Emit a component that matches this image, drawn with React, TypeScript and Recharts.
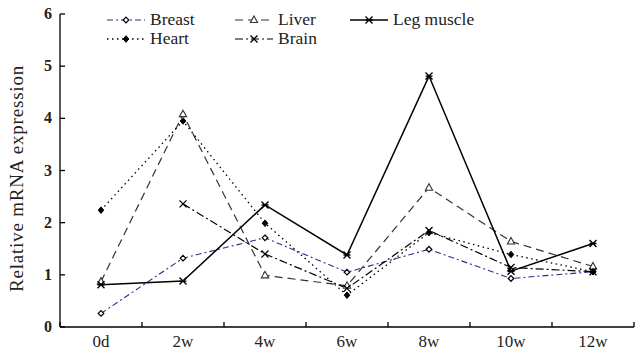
import React from "react";
import { LineChart, Line, XAxis, YAxis } from "recharts";

const stages = ["0d", "2w", "4w", "6w", "8w", "10w", "12w"];
const breast = [0.26, 1.32, 1.71, 1.05, 1.49, 0.93, 1.06];
const heart = [2.24, 3.95, 1.99, 0.61, 1.81, 1.39, 1.06];
const liver = [0.87, 4.08, 0.99, 0.79, 2.67, 1.64, 1.16];
const brain = [null, 2.36, 1.4, 0.74, 1.85, 1.14, 1.06];
const legMuscle = [0.81, 0.88, 2.34, 1.38, 4.81, 1.07, 1.6];
const yTicks = [0, 1, 2, 3, 4, 5, 6];
const xTicks = [-0.5, 0, 0.5, 1, 1.5, 2, 2.5, 3, 3.5, 4, 4.5, 5, 5.5, 6, 6.5];

const data = stages.map((s, i) => ({
  x: i,
  stage: s,
  breast: breast[i],
  heart: heart[i],
  liver: liver[i],
  brain: brain[i],
  legMuscle: legMuscle[i],
}));

const FONT = "Liberation Serif";
const BLUE = "#2e2a8c";

function Marker({ kind, cx, cy, color }: { kind: string; cx: number; cy: number; color: string }) {
  if (cx == null || cy == null || isNaN(cy)) return null;
  const r = 2.8;
  switch (kind) {
    case "openDiamond":
      return <path d={`M${cx},${cy - r}L${cx + r},${cy}L${cx},${cy + r}L${cx - r},${cy}Z`} fill="#fff" stroke="#000" strokeWidth={1.2} />;
    case "diamond":
      return <path d={`M${cx},${cy - r - 0.5}L${cx + r},${cy}L${cx},${cy + r + 0.5}L${cx - r},${cy}Z`} fill={color} stroke={color} strokeWidth={1} />;
    case "triangle":
      return <path d={`M${cx},${cy - 4}L${cx + 3.6},${cy + 2.5}L${cx - 3.6},${cy + 2.5}Z`} fill="#fff" stroke={color} strokeWidth={1.1} />;
    case "cross":
      return <path d={`M${cx - 3.5},${cy - 3.5}L${cx + 3.5},${cy + 3.5}M${cx - 3.5},${cy + 3.5}L${cx + 3.5},${cy - 3.5}`} stroke={color} strokeWidth={1.3} fill="none" />;
    case "star":
      return (
        <path
          d={`M${cx - 3.5},${cy - 3.5}L${cx + 3.5},${cy + 3.5}M${cx - 3.5},${cy + 3.5}L${cx + 3.5},${cy - 3.5}M${cx - 3.5},${cy}L${cx + 3.5},${cy}`}
          stroke={color}
          strokeWidth={1.4}
          fill="none"
        />
      );
  }
  return null;
}

const series = [
  { key: "breast", name: "Breast", color: BLUE, dash: "6 3 2 3", width: 1.1, marker: "openDiamond" },
  { key: "liver", name: "Liver", color: "#333", dash: "8 5", width: 1.2, marker: "triangle" },
  { key: "legMuscle", name: "Leg muscle", color: "#000", dash: undefined, width: 1.5, marker: "star" },
  { key: "heart", name: "Heart", color: "#000", dash: "1.5 3.5", width: 1.3, marker: "diamond" },
  { key: "brain", name: "Brain", color: "#000", dash: "8 3 2 3", width: 1.2, marker: "cross" },
];

function XTick(props: any) {
  const { x, y, payload } = props;
  const v = payload.value;
  if (!Number.isInteger(v)) {
    return <line x1={x} x2={x} y1={y} y2={y - 5} stroke="#000" strokeWidth={1.3} />;
  }
  return (
    <text x={x} y={y + 20} textAnchor="middle" style={{ fontFamily: FONT }} fontSize={17} fill="#222">
      {stages[v]}
    </text>
  );
}

function YTick(props: any) {
  const { x, y, payload } = props;
  return (
    <g>
      <line x1={x} x2={x + 5} y1={y} y2={y} stroke="#000" strokeWidth={1.3} />
      <text x={x - 8} y={y + 5} textAnchor="end" style={{ fontFamily: FONT }} fontSize={16} fontWeight="bold" fill="#222">
        {payload.value}
      </text>
    </g>
  );
}

function YLabel(props: any) {
  const vb = props.viewBox;
  const cx = vb.x + vb.width - 44;
  const cy = vb.y + vb.height / 2 + 8;
  return (
    <text
      x={cx}
      y={cy}
      transform={`rotate(-90, ${cx}, ${cy})`}
      textAnchor="middle"
      dominantBaseline="central"
      style={{ fontFamily: FONT, letterSpacing: 0.8 }}
      fontSize={19}
      fill="#222"
    >
      Relative mRNA expression
    </text>
  );
}

function LegendBox() {
  const cols = [107, 235, 350];
  const rows = [20, 39];
  const items = series.map((s, i) => ({ s, col: cols[i % 3], row: rows[Math.floor(i / 3)] }));
  return (
    <svg width={638} height={50} style={{ position: "absolute", left: 0, top: 0 }}>
      {items.map(({ s, col, row }) => (
        <g key={s.key}>
          <line x1={col} x2={col + 38} y1={row} y2={row} stroke={s.color} strokeWidth={s.width} strokeDasharray={s.dash} />
          <Marker kind={s.marker} cx={col + 19} cy={row} color={s.color} />
          <text x={col + 43} y={row + 5} style={{ fontFamily: FONT }} fontSize={17.5} fill="#222">
            {s.name}
          </text>
        </g>
      ))}
    </svg>
  );
}

export default function App() {
  return (
    <div style={{ position: "absolute", left: 0, top: 0, width: 638, height: 350, background: "#fff" }}>
      <LineChart width={638} height={350} data={data} margin={{ top: 14, right: 4, bottom: 0, left: 0 }}>
        <XAxis
          dataKey="x"
          type="number"
          domain={[-0.5, 6.5]}
          ticks={xTicks}
          interval={0}
          tick={<XTick />}
          tickLine={false}
          tickSize={0}
          tickMargin={0}
          height={23}
          stroke="#000"
          strokeWidth={1.3}
        />
        <YAxis
          type="number"
          domain={[0, 6]}
          ticks={yTicks}
          interval={0}
          tick={<YTick />}
          tickLine={false}
          tickSize={0}
          tickMargin={0}
          width={60}
          stroke="#000"
          strokeWidth={1.3}
          label={<YLabel />}
        />
        {series.map((s) => (
          <Line
            key={s.key}
            dataKey={s.key}
            name={s.name}
            type="linear"
            stroke={s.color}
            strokeWidth={s.width}
            strokeDasharray={s.dash}
            dot={(p: any) => <Marker key={`${s.key}-${p.index}`} kind={s.marker} cx={p.cx} cy={p.cy} color={s.color} />}
            activeDot={false}
            isAnimationActive={false}
          />
        ))}
      </LineChart>
      <LegendBox />
    </div>
  );
}
